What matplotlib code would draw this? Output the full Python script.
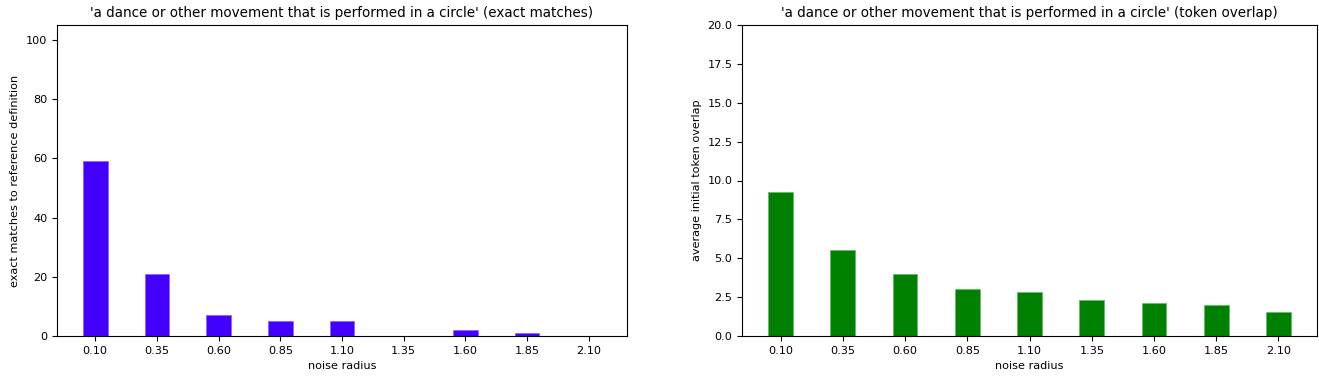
import numpy as np
import matplotlib
matplotlib.use('Agg')
import matplotlib.pyplot as plt

# noise radii and results for the one definition
radii = ['0.10', '0.35', '0.60', '0.85', '1.10', '1.35', '1.60', '1.85', '2.10']
exact_matches = [59, 21, 7, 5, 5, 0, 2, 1, 0]
token_overlap = [9.26, 5.51, 3.97, 3.02, 2.85, 2.29, 2.12, 1.97, 1.54]

definition = 'a dance or other movement that is performed in a circle'

fs = 8.1

fig = plt.figure(figsize=(13.19, 3.77), dpi=100)

ax1 = fig.add_axes([57/1319, 41/377, 570/1319, 311/377])
ax1.bar(radii, exact_matches, width=0.4, color='#4400ff', edgecolor='#8866ff', linewidth=0.6)
ax1.set_ylim(0, 105)
ax1.set_xlabel('noise radius', fontsize=fs)
ax1.set_ylabel('exact matches to reference definition', fontsize=fs)
ax1.set_title("'" + definition + "' (exact matches)", fontsize=fs*1.2)
ax1.tick_params(labelsize=fs)

ax2 = fig.add_axes([742/1319, 41/377, 575/1319, 311/377])
ax2.bar(radii, token_overlap, width=0.4, color='#008000', edgecolor='#66bb66', linewidth=0.6)
ax2.set_ylim(0, 20)
ax2.set_xlabel('noise radius', fontsize=fs)
ax2.set_ylabel('average initial token overlap', fontsize=fs)
ax2.set_title("'" + definition + "' (token overlap)", fontsize=fs*1.2)
ax2.tick_params(labelsize=fs)

fig.savefig('out.png', dpi=100)
